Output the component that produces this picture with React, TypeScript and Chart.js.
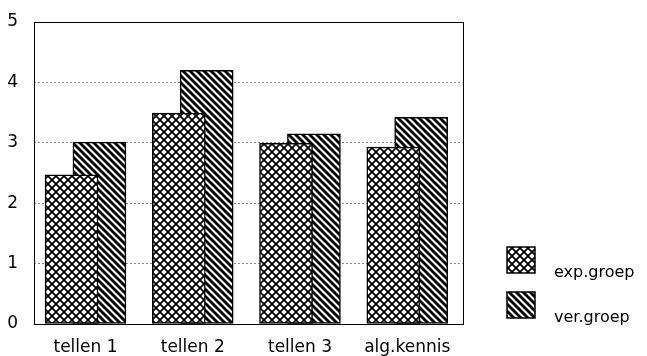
import React, { useEffect, useRef } from 'react';
import { Chart, registerables } from 'chart.js';

Chart.register(...registerables);

const categories = ['tellen 1', 'tellen 2', 'tellen 3', 'alg.kennis'];
const expGroep = [2.47, 3.49, 2.99, 2.93];
const verGroep = [3.01, 4.2, 3.15, 3.42];
const seriesLabels = ['exp.groep', 'ver.groep'];
const yMin = 0;
const yMax = 5;
const yStep = 1;

const FONT = '"DejaVu Sans", sans-serif';
const GROUP_SHIFT = 0.13;

function makeCrossPattern(ctx: CanvasRenderingContext2D) {
  const T = 8;
  const c = document.createElement('canvas');
  c.width = T;
  c.height = T;
  const g = c.getContext('2d')!;
  g.fillStyle = '#fff';
  g.fillRect(0, 0, T, T);
  g.strokeStyle = '#000';
  g.lineWidth = 1.7;
  for (const o of [-T, 0, T]) {
    g.beginPath();
    g.moveTo(o, 0);
    g.lineTo(o + T, T);
    g.stroke();
    g.beginPath();
    g.moveTo(o + T, 0);
    g.lineTo(o, T);
    g.stroke();
  }
  return ctx.createPattern(c, 'repeat')!;
}

function makeStripePattern(ctx: CanvasRenderingContext2D) {
  const T = 7;
  const c = document.createElement('canvas');
  c.width = T;
  c.height = T;
  const g = c.getContext('2d')!;
  g.fillStyle = '#fff';
  g.fillRect(0, 0, T, T);
  g.strokeStyle = '#000';
  g.lineWidth = 2.8;
  for (const o of [-T, 0, T]) {
    g.beginPath();
    g.moveTo(o - 1, -1);
    g.lineTo(o + T + 1, T + 1);
    g.stroke();
  }
  return ctx.createPattern(c, 'repeat')!;
}

const framePlugin = {
  id: 'frame',
  afterDatasetsDraw(chart: any) {
    const { ctx, chartArea } = chart;
    ctx.save();
    ctx.strokeStyle = '#000';
    ctx.lineWidth = 1;
    ctx.strokeRect(chartArea.left + 0.5, chartArea.top + 0.5, chartArea.right - chartArea.left, chartArea.bottom - chartArea.top);
    ctx.restore();
  },
};

const legendPlugin = {
  id: 'sideLegend',
  afterDraw(chart: any) {
    const { ctx, chartArea } = chart;
    const boxW = 28;
    const boxH = 26;
    const pitch = 45;
    const x = chartArea.right + 44;
    const firstTop = chartArea.bottom - 77;
    chart.data.datasets.forEach((ds: any, i: number) => {
      const y = firstTop + i * pitch;
      ctx.save();
      ctx.fillStyle = ds.backgroundColor;
      ctx.fillRect(x, y, boxW, boxH);
      ctx.strokeStyle = '#000';
      ctx.lineWidth = 1.5;
      ctx.strokeRect(x, y, boxW, boxH);
      ctx.fillStyle = '#000';
      ctx.font = `16px ${FONT}`;
      ctx.textBaseline = 'alphabetic';
      ctx.textAlign = 'left';
      ctx.fillText(ds.label, x + boxW + 19, y + 30);
      ctx.restore();
    });
  },
};

export default function App() {
  const ref = useRef<HTMLCanvasElement>(null);

  useEffect(() => {
    const canvas = ref.current!;
    const ctx = canvas.getContext('2d')!;
    const cross = makeCrossPattern(ctx);
    const stripes = makeStripePattern(ctx);

    const chart = new Chart(canvas, {
      type: 'bar',
      data: {
        datasets: [
          {
            label: seriesLabels[0],
            data: expGroep.map((v, i) => ({ x: i - GROUP_SHIFT, y: v })),
            backgroundColor: cross as any,
            borderColor: '#000',
            borderWidth: 1.5,
            borderSkipped: false,
          },
          {
            label: seriesLabels[1],
            data: verGroep.map((v, i) => ({ x: i + GROUP_SHIFT, y: v })),
            backgroundColor: stripes as any,
            borderColor: '#000',
            borderWidth: 1.5,
            borderSkipped: false,
          },
        ],
      },
      options: {
        animation: false,
        responsive: false,
        maintainAspectRatio: false,
        grouped: false,
        barThickness: 53,
        maxBarThickness: 53,
        layout: { padding: { top: 22, right: 184, bottom: 0, left: 0 } },
        plugins: {
          legend: { display: false },
          tooltip: { enabled: false },
        },
        scales: {
          x: {
            type: 'linear',
            offset: false,
            min: -0.48,
            max: categories.length - 0.48,
            grid: { display: false, drawTicks: false, offset: false },
            border: { display: false },
            afterBuildTicks: (axis: any) => {
              axis.ticks = categories.map((_, i) => ({ value: i }));
            },
            afterFit: (axis: any) => {
              axis.height = 32;
            },
            ticks: {
              padding: 13,
              color: '#000',
              font: { family: FONT, size: 17 },
              maxRotation: 0,
              autoSkip: false,
              callback: (v: any) => categories[Math.round(Number(v))] ?? '',
            },
          },
          y: {
            min: yMin,
            max: yMax,
            grid: { color: '#8c8c8c', lineWidth: 1, drawTicks: false },
            border: { display: false, dash: [2, 2] },
            afterFit: (axis: any) => {
              axis.width = 34;
              axis.paddingTop = 6;
              axis.paddingBottom = 0;
            },
            ticks: {
              stepSize: yStep,
              padding: 16,
              color: '#000',
              font: { family: FONT, size: 17 },
            },
          },
        },
      } as any,
      plugins: [framePlugin, legendPlugin],
    });

    return () => chart.destroy();
  }, []);

  return (
    <div style={{ position: 'fixed', left: 0, top: 0, width: 647, height: 356, background: '#fff' }}>
      <canvas ref={ref} width={647} height={356} style={{ display: 'block', width: 647, height: 356 }} />
    </div>
  );
}
